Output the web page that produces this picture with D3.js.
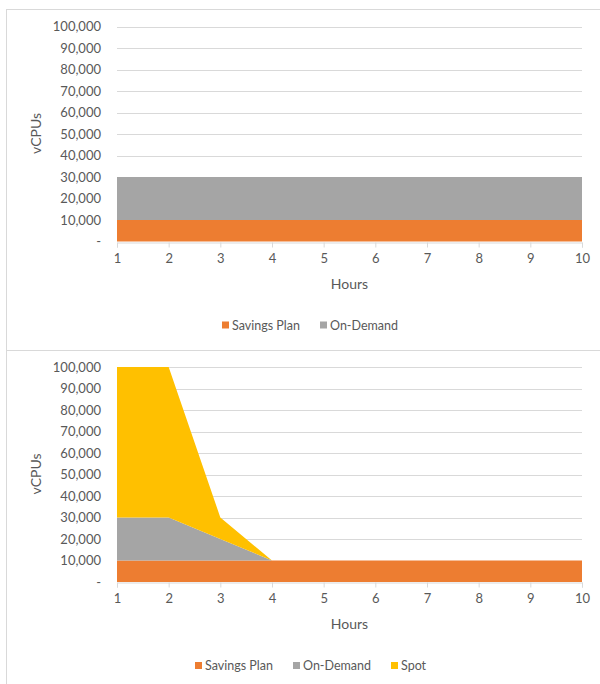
<!DOCTYPE html>
<html><head><meta charset="utf-8">
<script src="https://cdn.jsdelivr.net/npm/d3@7"></script>
<style>body{margin:0;background:#fff}svg{display:block}</style>
</head><body>
<svg id="c" width="600" height="684"></svg>
<script>
const hours = [1,2,3,4,5,6,7,8,9,10];
const yTicks = [0,10000,20000,30000,40000,50000,60000,70000,80000,90000,100000];
// Chart 1
const top_savings  = [10000,10000,10000,10000,10000,10000,10000,10000,10000,10000];
const top_ondemand = [20000,20000,20000,20000,20000,20000,20000,20000,20000,20000];
// Chart 2
const bot_savings  = [10000,10000,10000,10000,10000,10000,10000,10000,10000,10000];
const bot_ondemand = [20000,20000,10000,0,0,0,0,0,0,0];
const bot_spot     = [70000,70000,10000,0,0,0,0,0,0,0];
const seriesNames = ["Savings Plan","On-Demand","Spot"];
const colors = {"Savings Plan":"#ED7D31","On-Demand":"#A5A5A5","Spot":"#FFC000"};

const svg = d3.select("#c");
const font = "Lato, 'Open Sans', sans-serif";
const txt = "#595959";

// panel borders
svg.append("rect").attr("x",6.5).attr("y",9.5).attr("width",600).attr("height",341)
  .attr("fill","none").attr("stroke","#d9d9d9");
svg.append("rect").attr("x",6.5).attr("y",350.5).attr("width",600).attr("height",400)
  .attr("fill","none").attr("stroke","#d9d9d9");

function drawChart(top, series, legendItems) {
  const x = d3.scaleLinear().domain([1,10]).range([117,582]);
  const y = d3.scaleLinear().domain([0,100000]).range([top+215, top]);
  const g = svg.append("g");
  // gridlines
  g.selectAll(".grid").data(yTicks.filter(d=>d>0)).join("line")
    .attr("x1",117).attr("x2",582)
    .attr("y1",d=>Math.round(y(d))+0.5).attr("y2",d=>Math.round(y(d))+0.5)
    .attr("stroke","#d9d9d9").attr("stroke-width",1);
  // stacked areas
  const data = hours.map((h,i)=>{const o={h}; series.forEach(s=>o[s.name]=s.values[i]); return o;});
  const stack = d3.stack().keys(series.map(s=>s.name));
  const layers = stack(data);
  const area = d3.area().x(d=>x(d.data.h)).y0(d=>y(d[0])).y1(d=>y(d[1]));
  g.selectAll(".layer").data(layers).join("path")
    .attr("d",area).attr("fill",d=>colors[d.key]);
  // y axis labels
  g.selectAll(".yl").data(yTicks).join("text")
    .attr("x",101).attr("y",d=>y(d)).attr("dy","0.35em")
    .attr("text-anchor","end").attr("font-family",font).attr("font-size",13).attr("fill",txt)
    .text(d=>d===0?"-":d3.format(",")(d));
  // x axis
  const xa = d3.axisBottom(x).tickValues(hours).tickSize(5).tickPadding(6).tickFormat(d3.format("d"));
  const ax = g.append("g").attr("transform",`translate(0,${Math.round(y(0))+0.5})`).call(xa);
  ax.select(".domain").attr("stroke","#d9d9d9");
  ax.selectAll(".tick line").attr("stroke","#d9d9d9");
  ax.selectAll("text").attr("font-family",font).attr("font-size",13).attr("fill",txt);
  // axis titles
  g.append("text").attr("x",(117+582)/2).attr("y",top+262).attr("text-anchor","middle")
    .attr("font-family",font).attr("font-size",14).attr("fill",txt).text("Hours");
  g.append("text").attr("transform",`translate(41,${top+107}) rotate(-90)`).attr("text-anchor","middle")
    .attr("font-family",font).attr("font-size",14).attr("fill",txt).text("vCPUs");
  // legend
  const lg = g.append("g").attr("transform",`translate(0,${top+299})`);
  legendItems.forEach(it=>{
    lg.append("rect").attr("x",it.x).attr("y",-4).attr("width",7).attr("height",7).attr("fill",colors[it.name]);
    lg.append("text").attr("x",it.x+10).attr("y",0).attr("dy","0.35em")
      .attr("font-family",font).attr("font-size",12.5).attr("fill",txt).text(it.name);
  });
}

drawChart(26.5, [
  {name:seriesNames[0], values:top_savings},
  {name:seriesNames[1], values:top_ondemand}
], [{name:seriesNames[0],x:222},{name:seriesNames[1],x:320}]);

drawChart(367, [
  {name:seriesNames[0], values:bot_savings},
  {name:seriesNames[1], values:bot_ondemand},
  {name:seriesNames[2], values:bot_spot}
], [{name:seriesNames[0],x:195},{name:seriesNames[1],x:293},{name:seriesNames[2],x:391}]);
</script>
</body></html>
